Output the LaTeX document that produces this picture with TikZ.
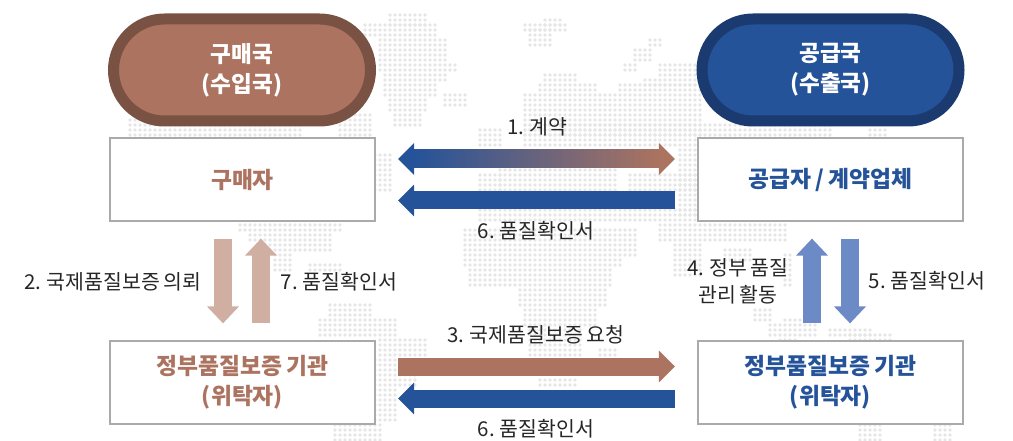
\documentclass[tikz,border=0pt]{standalone}
\usepackage{fontspec}
\usetikzlibrary{arrows.meta}
\setmainfont[WordSpace=0.8]{Noto Sans CJK KR}
\definecolor{BuyerColor0}{RGB}{122,82,67}
\definecolor{BuyerColor1}{RGB}{171,115,96}
\definecolor{BuyerColor2}{RGB}{208,175,162}
\definecolor{SupplierColor0}{RGB}{27,58,112}
\definecolor{SupplierColor1}{RGB}{37,83,154}
\definecolor{SupplierColor2}{RGB}{108,138,198}
\definecolor{MapDotColor}{RGB}{230,230,230}
\definecolor{BoxLineColor}{RGB}{170,170,170}
\definecolor{LabelColor}{RGB}{38,38,38}
\begin{document}
\begin{tikzpicture}[x=1pt,y=-1pt,
state/.style n args={2}{draw=#1,fill=#2,line width=11pt,minimum width=257pt,minimum height=102pt,rounded corners=51pt,text=white,font=\fontsize{22.6}{30}\selectfont\bfseries,align=center,inner sep=0pt},
party/.style={draw=BoxLineColor,fill=white,line width=1.2pt,minimum width=265pt,minimum height=83pt,text=#1,font=\fontsize{22.8}{30}\selectfont\bfseries,align=center,inner sep=0pt},
lbl/.style={text=LabelColor,font=\fontsize{20.5}{27}\selectfont,align=center,inner sep=0pt},
hflow/.style={#1,line width=18pt,shorten <=22.5pt,shorten >=22.5pt,-{Triangle[length=16pt,width=31pt]}},
vflow/.style={#1,line width=18pt,shorten <=17pt,shorten >=17pt,-{Triangle[length=17pt,width=31pt]}}]
\useasboundingbox (0,0) rectangle (1013,441);
% map
\foreach \xa/\xb/\ya/\yb in %
{390/425/15/25,365/435/25/35,380/445/40/60,380/455/65/70,385/445/75/80,385/435/85/95,445/465/95/105,390/425/100/110,395/420/115/125,
525/565/25/30,530/550/30/45,545/560/20/20,650/660/40/45,635/650/50/60,625/635/65/70,
130/300/120/135,340/370/115/135,375/390/155/190,240/340/225/230,250/330/235/240,270/330/245/250,275/290/255/270,310/340/265/270,
330/370/305/315,320/395/320/335,380/425/340/355,375/415/360/385,375/395/390/420,335/380/425/440,
545/575/75/80,540/595/85/90,620/700/85/90,645/700/80/80,660/700/65/75,525/700/95/145,480/500/130/145,525/830/125/135,870/885/130/135,
480/500/175/190,500/615/165/190,630/700/175/190,680/700/150/215,480/700/210/220,
465/635/230/255,465/620/260/265,470/610/270/285,520/605/290/305,525/595/310/325,530/580/330/355,600/615/350/355,540/575/380/385,
660/785/225/240,675/700/245/275,725/750/250/260,785/790/255/285,755/770/310/320,770/780/325/335,785/815/320/335,830/870/330/330,850/890/335/340,780/795/340/340,
860/880/425/440,935/950/425/440} {
   \pgfmathtruncatemacro{\xn}{\xa+5}
   \pgfmathtruncatemacro{\yn}{\ya+5}
   \foreach \x in {\xa,\xn,...,\xb} {
      \foreach \y in {\ya,\yn,...,\yb} {
         \fill[MapDotColor] (\x,\y) circle (1.9pt);
      }
   }
}
% countries and parties
\node[state={BuyerColor0}{BuyerColor1}](buyerState) at(242,70) {구매국\\(수입국)};
\node[state={SupplierColor0}{SupplierColor1}](supplierState) at(830.5,70) {공급국\\(수출국)};
\node[party=BuyerColor1](buyer) at(242.5,179.5) {구매자};
\node[party=SupplierColor1](supplier) at(830.5,179.5) {공급자 / 계약업체};
\node[party=BuyerColor1](buyerAgency) at(242.5,382.5) {정부품질보증 기관\\(위탁자)};
\node[party=SupplierColor1](supplierAgency) at(830.5,382.5) {정부품질보증 기관\\(위탁자)};
% flows
\draw[hflow=BuyerColor1,{Triangle[length=16pt,width=31pt,color=SupplierColor1]}-{Triangle[length=16pt,width=31pt,color=BuyerColor1]}]
   ([yshift=20.5pt]buyer.east) -- ([yshift=20.5pt]supplier.west);
\shade[left color=SupplierColor1,right color=BuyerColor1] ([shift={(38,-29.5)}]buyer.east) rectangle ([shift={(-38,-11.5)}]supplier.west);
\draw[hflow=SupplierColor1] ([yshift=-21pt]supplier.west) -- ([yshift=-21pt]buyer.east);
\draw[hflow=BuyerColor1] ([yshift=16pt]buyerAgency.east) -- ([yshift=16pt]supplierAgency.west);
\draw[hflow=SupplierColor1] ([yshift=-16pt]supplierAgency.west) -- ([yshift=-16pt]buyerAgency.east);
\draw[vflow=BuyerColor2] ([xshift=-19.5pt]buyer.south) -- ([xshift=-19.5pt]buyerAgency.north);
\draw[vflow=BuyerColor2] ([xshift=18.5pt]buyerAgency.north) -- ([xshift=18.5pt]buyer.south);
\draw[vflow=SupplierColor2] ([xshift=-18.5pt]supplierAgency.north) -- ([xshift=-18.5pt]supplier.south);
\draw[vflow=SupplierColor2] ([xshift=19.5pt]supplier.south) -- ([xshift=19.5pt]supplierAgency.north);
% labels
\node[lbl](lblContract) at(537,127) {1. 계약};
\node[lbl](lblRequest) at(113,282) {2. 국제품질보증 의뢰};
\node[lbl](lblAsk) at(536,335) {3. 국제품질보증 요청};
\node[lbl](lblActivity) at(738,281) {4. 정부 품질\\관리 활동};
\node[lbl](lblCertSupplier) at(927,281) {5. 품질확인서};
\node[lbl](lblCertTop) at(536,231) {6. 품질확인서};
\node[lbl](lblCertBottom) at(536,429) {6. 품질확인서};
\node[lbl](lblCertBuyer) at(339,282) {7. 품질확인서};
\end{tikzpicture}
\end{document}
